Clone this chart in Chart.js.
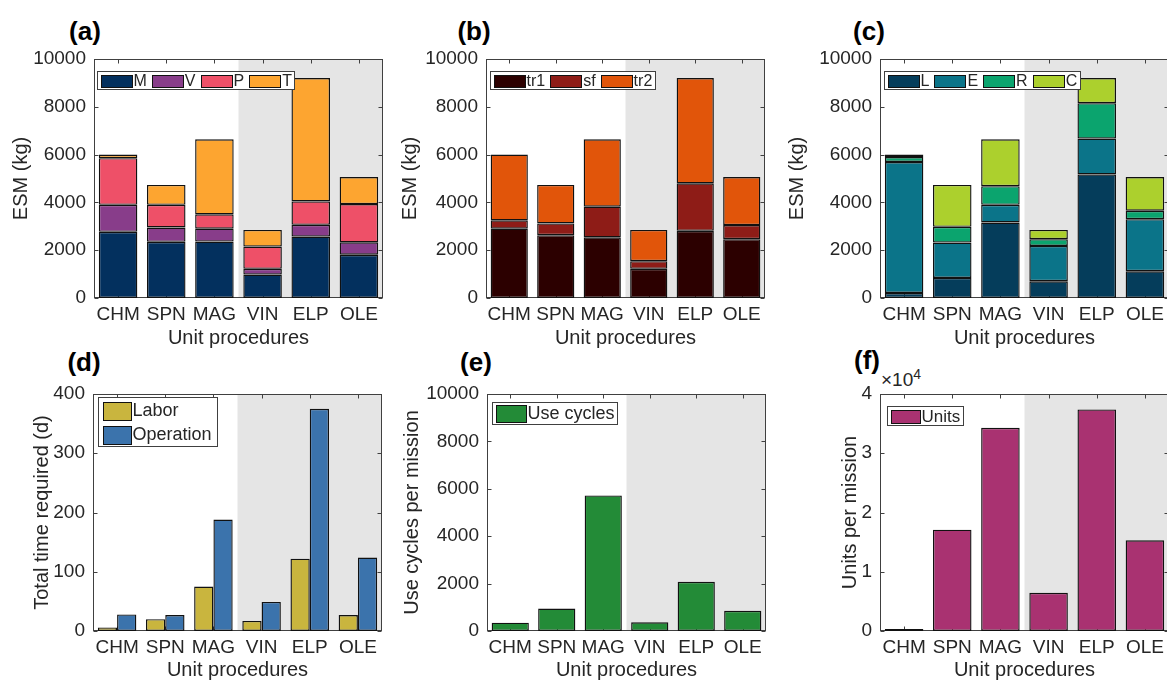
<!DOCTYPE html>
<html lang="en">
<head>
  <meta charset="UTF-8">
  <title>ESM, time and use per unit procedure</title>
  <script src="https://cdn.jsdelivr.net/npm/chart.js"></script>
  <style>
    body { margin: 0; width: 1167px; height: 684px; overflow: hidden; background: #fff; position: relative;
           font-family: "Liberation Sans", Arial, sans-serif; }
    canvas { position: absolute; }
    .tag { position: absolute; font-weight: bold; font-size: 26px; color: #000; transform: translate(-50%, -50%); }
    .exp { position: absolute; font-size: 19px; color: #262626; }
    .exp sup { font-size: 14px; }
  </style>
</head>
<body>
  <div class="tag" style="left:85px;top:31px">(a)</div>
  <div class="tag" style="left:474px;top:31px">(b)</div>
  <div class="tag" style="left:869px;top:31px">(c)</div>
  <div class="tag" style="left:84px;top:362px">(d)</div>
  <div class="tag" style="left:476px;top:362px">(e)</div>
  <div class="tag" style="left:867px;top:360px">(f)</div>
  <div class="exp" style="left:881px;top:366px">&times;10<sup>4</sup></div>

  <canvas id="chartA" width="390" height="352" style="left:0;top:0"></canvas>
  <canvas id="chartB" width="390" height="352" style="left:390px;top:0"></canvas>
  <canvas id="chartC" width="392" height="352" style="left:780px;top:0"></canvas>
  <canvas id="chartD" width="390" height="342" style="left:0;top:342px"></canvas>
  <canvas id="chartE" width="390" height="342" style="left:390px;top:342px"></canvas>
  <canvas id="chartF" width="392" height="342" style="left:780px;top:342px"></canvas>

  <script>
    const procedures = ['CHM', 'SPN', 'MAG', 'VIN', 'ELP', 'OLE'];

    // (a) ESM split by M / V / P / T (kg)
    const esmM = [2770, 2350, 2360, 980, 2570, 1810];
    const esmV = [1130, 600, 540, 240, 490, 520];
    const esmP = [1950, 950, 600, 930, 980, 1600];
    const esmT = [150, 830, 3140, 700, 5160, 1130];

    // (b) ESM split by tr1 / sf / tr2 (kg)
    const esmTr1 = [2900, 2630, 2540, 1220, 2810, 2460];
    const esmSf = [350, 490, 1280, 320, 1990, 590];
    const esmTr2 = [2750, 1610, 2820, 1310, 4400, 2010];

    // (c) ESM split by L / E / R / C (kg)
    const esmL = [210, 840, 3160, 700, 5170, 1120];
    const esmE = [5480, 1480, 740, 1480, 1500, 2180];
    const esmR = [210, 660, 780, 280, 1480, 350];
    const esmC = [100, 1750, 1960, 390, 1050, 1410];

    // (d) total time required (d)
    const laborDays = [6, 20, 75, 17, 122, 27];
    const operationDays = [28, 27, 188, 49, 375, 124];

    // (e) use cycles per mission
    const useCycles = [350, 950, 5720, 365, 2075, 855];

    // (f) units per mission
    const unitsPerMission = [340, 17100, 34300, 6450, 37400, 15300];

    const FONT = '"Liberation Sans", Arial, sans-serif';
    const INK = '#262626';
    const EDGE = '#111';

    // gray band for the last three procedures, box with inward ticks, legend inside the plot
    const matlabLook = {
      id: 'matlabLook',
      beforeDraw(chart) {
        const { ctx, chartArea: a, scales: { x } } = chart;
        const from = (x.getPixelForValue(2) + x.getPixelForValue(3)) / 2;
        ctx.save();
        ctx.fillStyle = '#e5e5e5';
        ctx.fillRect(from, a.top, a.right - from, a.bottom - a.top);
        ctx.restore();
      },
      beforeDatasetsDraw(chart) {
        const { ctx, chartArea: a, scales: { x, y } } = chart;
        ctx.save();
        ctx.strokeStyle = '#404040';
        ctx.lineWidth = 1;
        const L = Math.round(a.left) + 0.5, R = Math.round(a.right) - 0.5;
        const T = Math.round(a.top) + 0.5, B = Math.round(a.bottom) - 0.5;
        ctx.strokeRect(L, T, R - L, B - T);
        ctx.beginPath();
        x.ticks.forEach((t, i) => {
          const px = Math.round(x.getPixelForTick(i)) + 0.5;
          ctx.moveTo(px, T); ctx.lineTo(px, T + 4);
          ctx.moveTo(px, B); ctx.lineTo(px, B - 4);
        });
        y.ticks.forEach((t, i) => {
          const py = Math.round(y.getPixelForTick(i)) + 0.5;
          ctx.moveTo(L, py); ctx.lineTo(L + 4, py);
          ctx.moveTo(R, py); ctx.lineTo(R - 4, py);
        });
        ctx.stroke();
        ctx.restore();
      },
      afterDatasetsDraw(chart, args, cfg) {
        if (!cfg || !cfg.size) return;
        const { ctx, chartArea: a } = chart;
        ctx.save();
        ctx.font = cfg.size + 'px ' + FONT;
        ctx.textBaseline = 'middle';
        const items = chart.data.datasets.map(d => ({
          label: d.label, color: d.backgroundColor, w: ctx.measureText(d.label).width
        }));
        const bx = Math.round(a.left + cfg.dx) + 0.5, by = Math.round(a.top + cfg.dy) + 0.5;
        let bw;
        if (cfg.vertical) {
          bw = cfg.pad * 2 + cfg.sw + 2 + Math.max(...items.map(i => i.w)) + 2;
        } else {
          bw = cfg.pad * 2 + items.reduce((s, i) => s + cfg.sw + 2 + i.w, 0) + (items.length - 1) * cfg.space;
        }
        ctx.fillStyle = '#fff';
        ctx.fillRect(bx, by, bw, cfg.h);
        ctx.strokeStyle = '#404040';
        ctx.lineWidth = 1;
        ctx.strokeRect(bx, by, Math.round(bw), cfg.h);
        let cx = bx + cfg.pad;
        items.forEach((it, k) => {
          let rowMid;
          if (cfg.vertical) {
            cx = bx + cfg.pad;
            rowMid = by + cfg.pad + cfg.sh / 2 + k * cfg.row;
          } else {
            rowMid = by + cfg.h / 2;
          }
          const sy = Math.round(rowMid - cfg.sh / 2) + 0.5;
          ctx.fillStyle = it.color;
          ctx.fillRect(Math.round(cx) + 0.5, sy, cfg.sw, cfg.sh);
          ctx.strokeStyle = EDGE;
          ctx.strokeRect(Math.round(cx) + 0.5, sy, cfg.sw, cfg.sh);
          ctx.fillStyle = INK;
          ctx.fillText(it.label, cx + cfg.sw + 2, rowMid + 1);
          cx += cfg.sw + 2 + it.w + cfg.space;
        });
        ctx.restore();
      }
    };

    function bars(label, data, color) {
      return { label, data, backgroundColor: color, borderColor: EDGE, borderWidth: 1.4, borderSkipped: false };
    }

    function makePanel(id, p) {
      new Chart(document.getElementById(id), {
        type: 'bar',
        data: { labels: procedures, datasets: p.datasets },
        options: {
          responsive: false,
          animation: false,
          devicePixelRatio: 1,
          layout: { padding: { left: 0, top: p.top, right: p.right, bottom: 0 } },
          datasets: { bar: { categoryPercentage: p.catPct || 1, barPercentage: p.barPct || 0.8 } },
          plugins: { legend: { display: false }, tooltip: { enabled: false }, matlabLook: p.legend },
          scales: {
            x: {
              stacked: !!p.stacked,
              grid: { display: false, drawTicks: false },
              border: { display: false },
              ticks: { color: INK, font: { family: FONT, size: 19 }, padding: 5, autoSkip: false, maxRotation: 0 },
              title: { display: true, text: 'Unit procedures', color: INK, font: { family: FONT, size: 20 },
                       padding: { top: 0, bottom: 2 } },
              afterFit: s => { s.height = p.xh; }
            },
            y: {
              stacked: !!p.stacked,
              min: 0, max: p.max,
              grid: { display: false, drawTicks: false },
              border: { display: false },
              ticks: { stepSize: p.step, color: INK, font: { family: FONT, size: 19 }, padding: 8,
                       callback: p.tickFmt || (v => v) },
              title: { display: true, text: p.ytitle, color: INK, font: { family: FONT, size: 20 },
                       padding: { top: p.ytPad, bottom: 0 } },
              afterFit: s => { s.width = p.yw; }
            }
          }
        },
        plugins: [matlabLook]
      });
    }

    const rowLegend = { pad: 3, sw: 31, sh: 12, space: 5, size: 16, dx: 3, dy: 12, h: 18 };

    makePanel('chartA', {
      datasets: [bars('M', esmM, '#03305e'), bars('V', esmV, '#883d8a'),
                 bars('P', esmP, '#ee5068'), bars('T', esmT, '#fda530')],
      stacked: true, max: 10000, step: 2000, ytitle: 'ESM (kg)', ytPad: 9,
      yw: 94, xh: 54, top: 59, right: 7, legend: rowLegend
    });

    makePanel('chartB', {
      datasets: [bars('tr1', esmTr1, '#2c0000'), bars('sf', esmSf, '#8e1c17'), bars('tr2', esmTr2, '#e1550a')],
      stacked: true, max: 10000, step: 2000, ytitle: 'ESM (kg)', ytPad: 8,
      yw: 96, xh: 54, top: 59, right: 15, legend: Object.assign({}, rowLegend, { dx: 4 })
    });

    makePanel('chartC', {
      datasets: [bars('L', esmL, '#053d5b'), bars('E', esmE, '#0b7489'),
                 bars('R', esmR, '#0ba46e'), bars('C', esmC, '#acd02d')],
      stacked: true, max: 10000, step: 2000, ytitle: 'ESM (kg)', ytPad: 5,
      yw: 100, xh: 54, top: 59, right: 3, legend: Object.assign({}, rowLegend, { dx: 4 })
    });

    makePanel('chartD', {
      datasets: [bars('Labor', laborDays, '#c9b53e'), bars('Operation', operationDays, '#3b73ac')],
      catPct: 0.8, barPct: 1, max: 400, step: 100, ytitle: 'Total time required (d)', ytPad: 30,
      yw: 93, xh: 53, top: 52, right: 8,
      legend: { vertical: true, pad: 4, sw: 28, sh: 18, row: 24, space: 0, size: 18, dx: 5, dy: 3, h: 49 }
    });

    makePanel('chartE', {
      datasets: [bars('Use cycles', useCycles, '#238b37')],
      max: 10000, step: 2000, ytitle: 'Use cycles per mission', ytPad: 10,
      yw: 97, xh: 53, top: 52, right: 14,
      legend: { pad: 3, sw: 30, sh: 17, space: 0, size: 18, dx: 5, dy: 8, h: 22 }
    });

    makePanel('chartF', {
      datasets: [bars('Units', unitsPerMission, '#a93271')],
      max: 40000, step: 10000, ytitle: 'Units per mission', ytPad: 58, tickFmt: v => v / 10000,
      yw: 100, xh: 53, top: 52, right: 3,
      legend: { pad: 3, sw: 29, sh: 13, space: 0, size: 17, dx: 7, dy: 12, h: 19 }
    });
  </script>
</body>
</html>
